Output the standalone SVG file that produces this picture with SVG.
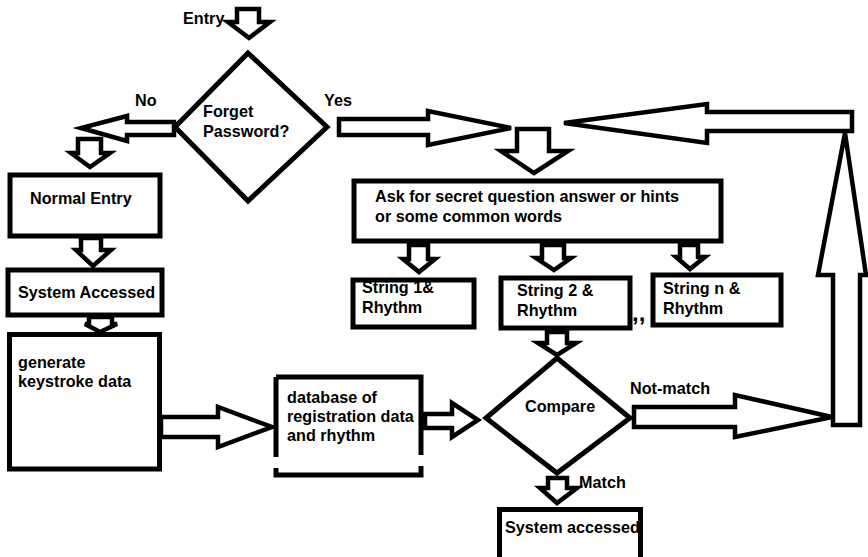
<svg xmlns="http://www.w3.org/2000/svg" width="868" height="557" viewBox="0 0 868 557">
<style>
  .box{fill:#fff;stroke:#000;stroke-width:5}
  .dia{fill:#fff;stroke:#000;stroke-width:5;stroke-linejoin:miter}
  .arr{fill:#fff;stroke:#000;stroke-width:4.5;stroke-linejoin:miter}
  text{font-family:"Liberation Sans",Arial,sans-serif;font-weight:bold;font-size:16.2px;fill:#000}
</style>
<rect width="868" height="557" fill="#fff"/>
<g id="connectors">
  <polygon class="arr" points="237,9 259,9 259,22 270,22 249,38 228,22 237,22"/>
  <polygon class="arr" points="174,122 127,122 127,116 81,128 127,141 127,135 174,135"/>
  <polygon class="arr" points="78,139 101,139 101,153 110,153 90,167 71,153 78,153"/>
  <polygon class="arr" points="81,238 101,238 101,250 111,250 93,266 76,250 81,250"/>
  <polygon class="arr" points="89,317 112,317 112,324 117,324 100,332 85,324 89,324"/>
  <polygon class="arr" points="161,417 218,417 218,407 272,427 218,447 218,437 161,437"/>
  <polygon class="arr" points="425,414 452,414 452,403 478,420 452,437 452,428 425,428"/>
  <polygon class="arr" points="547,332 567,332 567,343 576,343 557,355 538,343 547,343"/>
  <polygon class="arr" points="548,478 567,478 567,488 577,488 557,503 540,488 548,488"/>
  <polygon class="arr" points="634,407 735,407 735,395 832,417 735,437 735,427 634,427"/>
  <polygon class="arr" points="833,425 860,425 860,275 866,275 845,133 818,275 833,275"/>
  <polygon class="arr" points="852,112 707,112 707,104 564,123 707,143 707,131 852,131"/>
  <polygon class="arr" points="339,119 428,119 428,111 511,128 428,145 428,135 339,135"/>
  <polygon class="arr" points="517,129 549,129 549,151 568,151 534,173 501,151 517,151"/>
  <polygon class="arr" points="409,245 428,245 428,259 435,259 419,272 403,259 409,259"/>
  <polygon class="arr" points="542,245 564,245 564,258 571,258 554,270 536,258 542,258"/>
  <polygon class="arr" points="680,245 698,245 698,257 705,257 690,269 676,257 680,257"/>
</g>
<g id="label-entry"><text x="183" y="24">Entry</text></g>
<g id="label-no"><text x="135" y="106">No</text></g>
<g id="label-yes"><text x="324" y="106">Yes</text></g>
<g id="label-notmatch"><text x="630" y="394">Not-match</text></g>
<g id="label-match"><text x="579" y="488">Match</text></g>
<g id="forget-password">
  <polygon class="dia" points="248,53 327,127 248,201 175,127"/>
  <text x="203" y="117">Forget</text>
  <text x="203" y="137">Password?</text>
</g>
<g id="normal-entry">
  <rect class="box" x="10" y="175" width="150" height="61"/>
  <text x="30" y="204">Normal Entry</text>
</g>
<g id="system-accessed-1">
  <rect class="box" x="8" y="270" width="154" height="45"/>
  <text x="18" y="298">System Accessed</text>
</g>
<g id="generate">
  <rect class="box" x="9.5" y="334.5" width="150" height="134.5"/>
  <text x="18" y="368">generate</text>
  <text x="18" y="387">keystroke data</text>
</g>
<g id="database">
  <path d="M276,377 H421 V455 M421,466 V475 H276 V468 M276,457 V377" fill="none" stroke="#000" stroke-width="5"/>
  <text x="287" y="403">database of</text>
  <text x="287" y="422">registration data</text>
  <text x="287" y="441">and rhythm</text>
</g>
<g id="ask">
  <rect class="box" x="354" y="181" width="367" height="60"/>
  <text x="375" y="202">Ask for secret question answer or hints</text>
  <text x="375" y="222">or some common words</text>
</g>
<g id="string1">
  <rect class="box" x="353" y="280" width="121" height="47"/>
  <text x="362" y="293">String 1&amp;</text>
  <text x="362" y="313">Rhythm</text>
</g>
<g id="string2">
  <rect class="box" x="501" y="278" width="129" height="50"/>
  <text x="517" y="296">String 2 &amp;</text>
  <text x="517" y="316">Rhythm</text>
</g>
<g id="ellipsis"><text x="632" y="321" style="font-size:24px">,,</text></g>
<g id="stringn">
  <rect class="box" x="653" y="275" width="128" height="50"/>
  <text x="663" y="294">String n &amp;</text>
  <text x="663" y="314">Rhythm</text>
</g>
<g id="compare">
  <polygon class="dia" points="557,358 630,418 557,473 486,418"/>
  <text x="525" y="412">Compare</text>
</g>
<g id="system-accessed-2">
  <rect class="box" x="499.5" y="509.5" width="141" height="60"/>
  <text x="505" y="533">System accessed</text>
</g>
</svg>
